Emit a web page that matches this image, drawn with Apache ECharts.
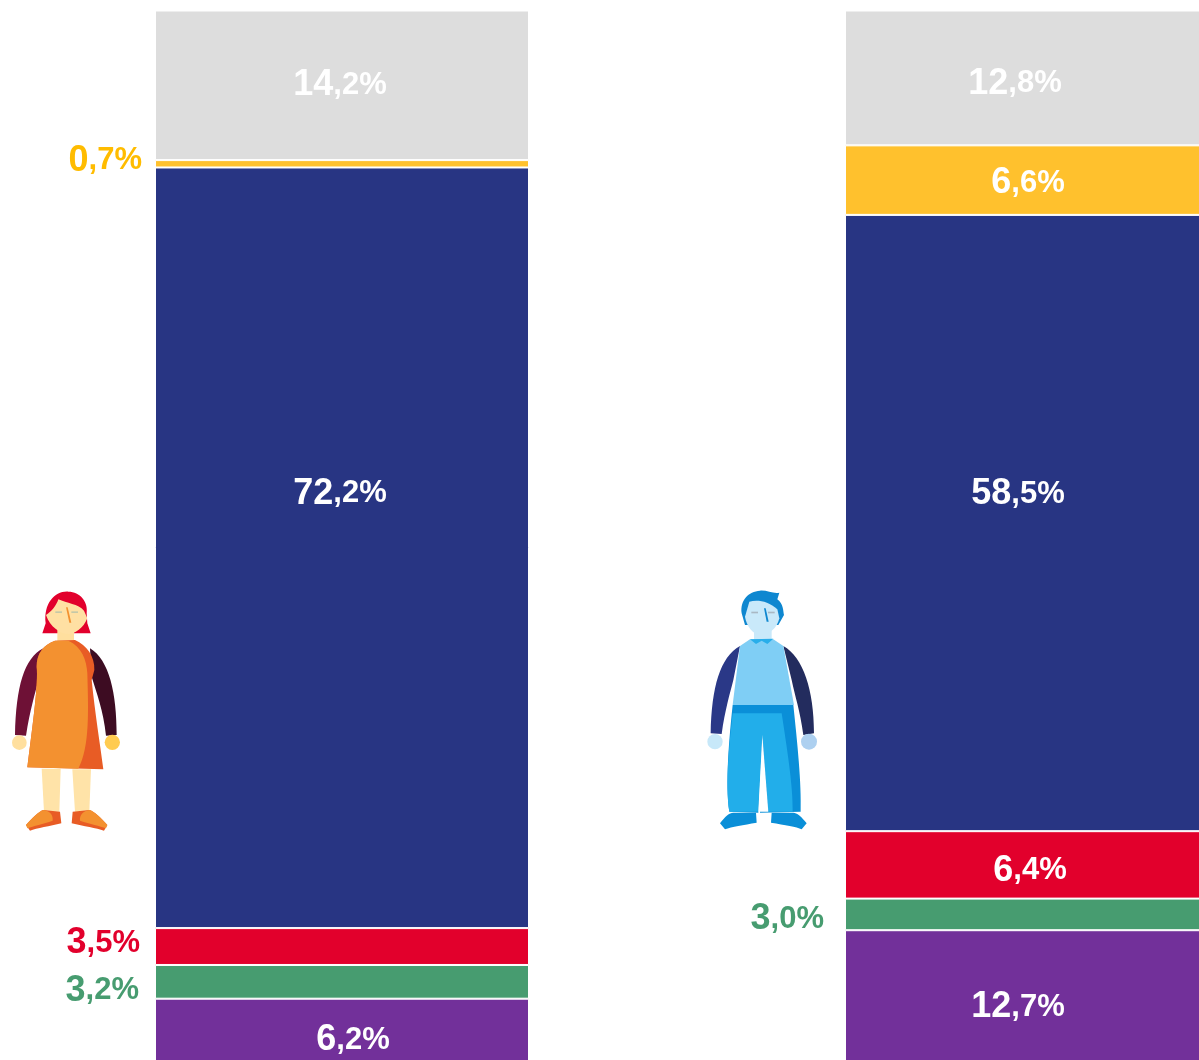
<!DOCTYPE html>
<html>
<head>
<meta charset="utf-8">
<title>Stacked shares</title>
<script src="https://cdn.jsdelivr.net/npm/echarts@6/dist/echarts.min.js"></script>
<style>
  html, body { margin: 0; padding: 0; background: #fff; overflow: hidden; }
  #chart { width: 1199px; height: 1060px; }
</style>
</head>
<body>
<div id="chart"></div>
<script>
const categories = ['Femmes', 'Hommes'];

// values, stacked from the top of the bar down
const grey = [14.2, 12.8];
const yellow = [0.7, 6.6];
const navy = [72.2, 58.5];
const red = [3.5, 6.4];
const green = [3.2, 3.0];
const purple = [6.2, 12.7];

const COLORS = {
  grey: '#dddddd',
  yellow: '#ffc12d',
  navy: '#283583',
  red: '#e2002c',
  green: '#479c70',
  purple: '#72309a',
};

// label offsets from the centre of each segment, [dx, dy], and which ones sit outside
const labelPlace = {
  grey: [{d: [-2, 0]}, {d: [-17, 6]}],
  yellow: [{d: [-13, -3], out: '#ffbc00'}, {d: [-4, 3]}],
  navy: [{d: [-2, -54]}, {d: [-14, -29]}],
  red: [{d: [-15, -3], out: '#e2002c'}, {d: [-2, 6]}],
  green: [{d: [-16, 9], out: '#479c70'}, {d: [-21, 5], out: '#479c70'}],
  purple: [{d: [11, 9]}, {d: [-14, 10]}],
};

const fmt = (v) => {
  const parts = v.toFixed(1).split('.');
  return `${parts[0]}|,${parts[1]}%`;
};

const makeSeries = (name, values) => ({
  name,
  type: 'bar',
  stack: 'total',
  barWidth: 374,
  silent: true,
  itemStyle: {color: COLORS[name], borderColor: '#fff', borderWidth: 1},
  data: values.map((v, i) => {
    const place = labelPlace[name][i];
    const color = place.out || '#fff';
    const big = {fontSize: 36, fontWeight: 'bold', color, fontFamily: 'Liberation Sans', verticalAlign: 'bottom', lineHeight: 36, height: 36};
    const small = {fontSize: 31, fontWeight: 'bold', color, fontFamily: 'Liberation Sans', verticalAlign: 'bottom', lineHeight: 34, height: 36};
    return {
      value: v,
      label: {
        show: true,
        position: place.out ? 'left' : 'inside',
        distance: 0,
        offset: place.d,
        formatter: () => {
          const [a, b] = fmt(v).split('|');
          return `{big|${a}}{small|${b}}`;
        },
        rich: {big, small},
      },
    };
  }),
});

// figures next to the bars, path coordinates are a 3x sketch of the area beside each bar
let shapeCount = 0;
const shape = (d, fill) => {
  const type = `figurePart${shapeCount++}`;
  echarts.graphic.registerShape(type, echarts.graphic.extendPath(d, {}));
  return {type, style: {fill}, silent: true};
};
const dot = (cx, cy, r, fill) => ({type: 'circle', shape: {cx, cy, r}, style: {fill}, silent: true});

const womanParts = [
  shape('M127,190 L137,160 C130,100 165,62 205,65 C240,65 265,95 260,130 L262,160 L272,190 L222,190 L172,190 Z', '#e2002c'),
  shape('M172,180 L222,180 L222,215 L172,215 Z', '#ffdf9e'),
  shape('M138,135 C155,125 170,105 175,88 C200,100 235,102 252,122 L262,145 C250,175 225,192 205,192 C180,192 150,170 138,135 Z', '#ffe0a3'),
  shape('M166,124 L186,124 L186,129 L166,129 Z', '#c5c8a8'),
  shape('M214,124 L234,124 L234,129 L214,129 Z', '#c5c8a8'),
  shape('M198,112 L203,112 L214,158 L208,158 Z', '#f39130'),
  shape('M130,235 C72,265 48,350 45,495 L78,497 C90,420 105,370 118,320 L125,260 Z', '#6e1136'),
  shape('M270,235 C328,270 350,370 350,495 L318,497 C310,420 290,370 275,320 Z', '#3d0c22'),
  dot(58, 518, 22, '#ffdf9e'),
  dot(337, 517, 23, '#ffcb50'),
  shape('M125,596 L182,596 L178,725 L132,725 Z', '#ffe3a8'),
  shape('M217,598 L273,598 L268,725 L225,725 Z', '#ffe3a8'),
  shape('M165,212 L225,210 C260,225 285,260 283,300 L275,330 C285,430 300,520 310,598 L82,592 C100,450 115,340 110,290 C110,250 130,225 165,212 Z', '#e85c25'),
  shape('M165,212 L205,212 C245,230 260,270 262,310 C265,420 270,530 235,596 L82,592 C100,450 115,340 110,290 C110,250 130,225 165,212 Z', '#f39130'),
  shape('M78,765 C95,745 120,722 130,720 L180,725 L184,760 C150,768 110,775 90,782 Z', '#e85c25'),
  shape('M78,765 C95,745 120,722 130,720 C150,722 160,735 158,752 C130,762 100,768 82,775 Z', '#f39130'),
  shape('M322,765 C305,745 280,722 268,720 L218,725 L215,760 C250,768 290,775 312,782 Z', '#e85c25'),
  shape('M322,765 C305,745 280,722 268,720 C250,722 238,735 240,752 C270,762 300,768 318,775 Z', '#f39130'),
];

const manParts = [
  shape('M155,130 C150,90 175,65 210,62 C230,60 250,72 268,68 L262,88 C280,100 280,125 282,135 L265,165 L165,165 Z', '#0e87d0'),
  shape('M192,175 L245,175 L245,212 L192,212 Z', '#c9e9fa'),
  shape('M165,140 L178,95 C200,88 235,92 262,118 L268,145 C262,175 235,195 215,195 C190,195 170,170 165,140 Z', '#c9e9fa'),
  shape('M184,125 L204,125 L204,130 L184,130 Z', '#a9b8c4'),
  shape('M234,125 L254,125 L254,130 L234,130 Z', '#a9b8c4'),
  shape('M222,115 L227,115 L236,155 L230,155 Z', '#0e87d0'),
  shape('M150,228 C90,262 65,350 62,490 L95,492 C105,420 120,370 130,330 Z', '#2a3887'),
  shape('M280,228 C340,262 372,360 372,490 L340,495 C330,420 315,380 305,330 Z', '#232c5e'),
  dot(75, 515, 23, '#c7e8f9'),
  dot(357, 515, 24, '#add0f0'),
  shape('M180,208 L150,228 L128,405 L312,405 L280,228 L250,208 Z', '#7fcef5'),
  shape('M180,208 L250,206 L232,222 L215,212 L198,222 Z', '#29aeea'),
  shape('M128,405 L310,405 C322,520 335,640 332,725 L210,728 L217,495 L205,728 L118,725 C105,640 118,500 128,405 Z', '#0a8fd8'),
  shape('M128,430 L275,430 C290,530 310,650 308,725 L235,725 L217,495 L205,725 L118,725 C105,640 118,520 128,430 Z', '#22aeea'),
  shape('M205,725 L217,495 L235,725 Z', '#fff'),
  shape('M90,760 C105,740 118,728 130,728 L198,728 L200,758 C160,765 125,770 105,778 Z', '#0a8fd8'),
  shape('M350,760 C335,740 320,728 310,728 L245,728 L243,758 C285,765 320,770 335,778 Z', '#0a8fd8'),
];

const chart = echarts.init(document.getElementById('chart'), null, {renderer: 'canvas'});

chart.setOption({
  animation: false,
  backgroundColor: '#fff',
  // bars run off the foot of the page, and the second one off its right edge too
  grid: {left: -3, top: 10.5, width: 1380, height: 1053.5, containLabel: false, outerBoundsMode: 'none'},
  xAxis: {type: 'category', data: categories, show: false},
  yAxis: {type: 'value', inverse: true, min: 0, max: 100, show: false},
  series: [
    makeSeries('grey', grey),
    makeSeries('yellow', yellow),
    makeSeries('navy', navy),
    makeSeries('red', red),
    makeSeries('green', green),
    makeSeries('purple', purple),
  ],
  graphic: {
    elements: [
      {type: 'group', x: 0, y: 570, scaleX: 1 / 3, scaleY: 1 / 3, children: womanParts},
      {type: 'group', x: 690, y: 570, scaleX: 1 / 3, scaleY: 1 / 3, children: manParts},
    ],
  },
});

window.addEventListener('resize', chart.resize);
</script>
</body>
</html>
